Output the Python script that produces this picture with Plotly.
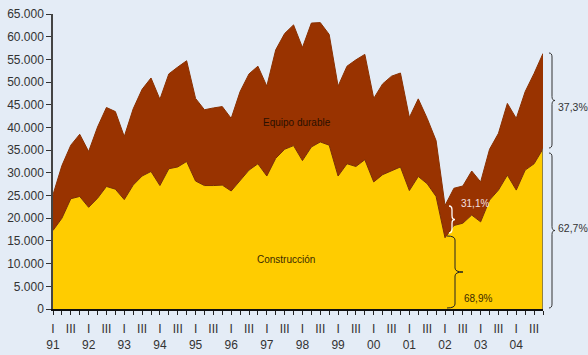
import plotly.graph_objects as go

# quarterly series, 1991 Q1 .. 2004 Q4
years = ['91', '92', '93', '94', '95', '96', '97', '98', '99', '00', '01', '02', '03', '04']
quarters = ['I', 'II', 'III', 'IV']

construccion = [17300, 20000, 24300, 24800, 22400, 24400, 27000, 26400, 24100, 27300,
                29300, 30300, 27200, 30900, 31300, 32500, 28200, 27200, 27200, 27300,
                26000, 28200, 30600, 32000, 29300, 33200, 35200, 36000, 32700, 35700,
                36800, 36100, 29300, 32000, 31400, 32900, 28000, 29600, 30400, 31300,
                26100, 29200, 27600, 24800, 15700, 18400, 18900, 20700, 19200, 24000,
                26200, 29500, 26200, 30600, 32000, 35300]

equipo_durable = [7900, 11600, 11800, 13700, 12300, 15700, 17400, 17100, 13900, 16800,
                  19100, 20600, 19000, 20900, 22000, 22200, 18200, 16700, 17100, 17300,
                  16000, 19700, 21200, 21500, 19800, 23900, 25500, 26600, 24900, 27300,
                  26300, 24400, 19800, 21500, 23500, 23200, 18400, 20000, 20900, 20700,
                  16100, 17100, 14400, 12300, 7100, 8200, 8200, 9700, 8800, 11200,
                  12500, 15800, 15800, 17300, 19900, 21000]

x = list(range(len(construccion)))

tick_text = []
for y in years:
    for q in quarters:
        if q == 'I':
            tick_text.append('I<br>' + y)
        elif q == 'III':
            tick_text.append('III')
        else:
            tick_text.append('')

W, H = 588, 355
L, R, T, B = 53, 45, 14, 46
PW, PH = W - L - R, H - T - B


def px(xp):
    return (xp - L) / PW


def py(yp):
    return (H - B - yp) / PH


def brace(x0, y_top, y_bot, w, ym=None):
    # "}" shaped brace drawn in pixel coordinates, converted to paper
    if ym is None:
        ym = (y_top + y_bot) / 2
    r = min(4, (y_bot - y_top) / 6)
    xc = x0 + w / 2
    pts = [
        ('M', [(x0, y_top)]),
        ('Q', [(xc, y_top), (xc, y_top + r)]),
        ('L', [(xc, ym - r)]),
        ('Q', [(xc, ym), (x0 + w, ym)]),
        ('Q', [(xc, ym), (xc, ym + r)]),
        ('L', [(xc, y_bot - r)]),
        ('Q', [(xc, y_bot), (x0, y_bot)]),
    ]
    s = ''
    for cmd, ps in pts:
        s += cmd + ' ' + ' '.join('%.5f,%.5f' % (px(a), py(b)) for a, b in ps) + ' '
    return s


fig = go.Figure()
fig.add_trace(go.Scatter(x=x, y=construccion, name='Construcción', stackgroup='one',
                         mode='lines', line=dict(color='#7A2E00', width=1),
                         fillcolor='#FFCC00'))
fig.add_trace(go.Scatter(x=x, y=equipo_durable, name='Equipo durable', stackgroup='one',
                         mode='lines', line=dict(color='#8A3000', width=1),
                         fillcolor='#993300'))
# right edge of the construction area
fig.add_trace(go.Scatter(x=[x[-1], x[-1]], y=[0, construccion[-1]], mode='lines',
                         line=dict(color='#6E6A5A', width=1.5), hoverinfo='skip'))

shapes = [
    dict(type='path', xref='paper', yref='paper', path=brace(549, 53, 148, 6),
         line=dict(color='#333333', width=1)),
    dict(type='path', xref='paper', yref='paper', path=brace(549, 153, 308, 6),
         line=dict(color='#333333', width=1)),
    dict(type='path', xref='paper', yref='paper', path=brace(449, 206, 233, 6),
         line=dict(color='white', width=1.3)),
    dict(type='path', xref='paper', yref='paper', path=brace(447, 236, 308, 16),
         line=dict(color='#222222', width=1)),
]

narrow = 'Liberation Sans Narrow, Arial Narrow, Liberation Sans, Arial'
annotations = [
    dict(x=px(297), y=py(123), text='Equipo durable', font=dict(size=10, color='#2A1000', family=narrow)),
    dict(x=px(286), y=py(259), text='Construcción', font=dict(size=10, color='#3A2A00', family=narrow)),
    dict(x=px(474.5), y=py(203), text='31,1%', font=dict(size=10, color='#F4E0E0', family=narrow)),
    dict(x=px(478), y=py(298), text='68,9%', font=dict(size=10, color='#3A2A00', family=narrow)),
    dict(x=px(557), y=py(107), text='37,3%', xanchor='left', borderpad=0,
         font=dict(size=10.5, color='#333333', family='Liberation Sans, Arial')),
    dict(x=px(557), y=py(228), text='62,7%', xanchor='left', borderpad=0,
         font=dict(size=10.5, color='#333333', family='Liberation Sans, Arial')),
]
for a in annotations:
    a.setdefault('xanchor', 'center')
    a.update(xref='paper', yref='paper', yanchor='middle', showarrow=False)

fig.update_layout(
    width=W, height=H,
    margin=dict(l=L, r=R, t=T, b=B, autoexpand=False),
    paper_bgcolor='#E4ECF6', plot_bgcolor='#E4ECF6',
    showlegend=False,
    separators=',.',
    font=dict(family='Liberation Sans, Arial', size=12, color='#333333'),
    shapes=shapes, annotations=annotations,
)
fig.update_xaxes(range=[0, len(x) - 1], tickvals=x, ticktext=tick_text,
                 ticks='outside', ticklen=4, tickcolor='#222222', tickwidth=1,
                 showline=True, linecolor='#111111', linewidth=1.5,
                 showgrid=False, zeroline=False, tickangle=0, automargin=False,
                 ticklabelstandoff=4,
                 tickfont=dict(size=12, color='#333333'))
fig.update_yaxes(range=[0, 65000], dtick=5000, tickformat=',d',
                 ticks='outside', ticklen=5, tickcolor='#333333', tickwidth=1,
                 showline=True, linecolor='#444444', linewidth=1.5,
                 showgrid=False, zeroline=False, automargin=False,
                 tickfont=dict(size=12, color='#333333'))

fig.write_html('out.html', config={'displayModeBar': False},
               post_script="document.body.style.margin='0';"
                           "document.body.style.background='#E4ECF6';")
